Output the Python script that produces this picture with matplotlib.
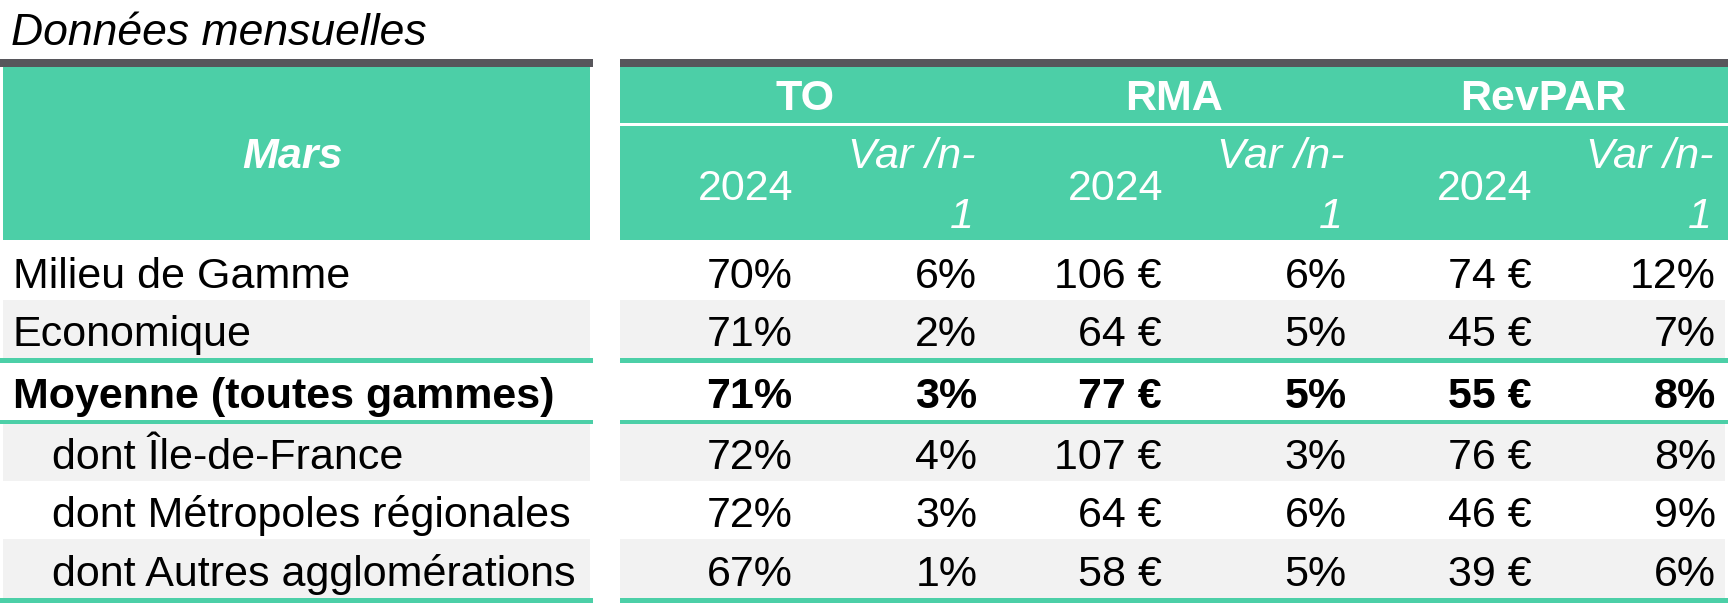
import matplotlib
matplotlib.use("Agg")
import matplotlib.pyplot as plt
from matplotlib.patches import Rectangle

# ---------------------------------------------------------------------------
# Data
# ---------------------------------------------------------------------------
month = "Mars"
title = "Données mensuelles"
groups = ["TO", "RMA", "RevPAR"]
year = "2024"

categories = [
    "Milieu de Gamme",
    "Economique",
    "Moyenne (toutes gammes)",
    "dont Île-de-France",
    "dont Métropoles régionales",
    "dont Autres agglomérations",
]
to_2024 = [70, 71, 71, 72, 72, 67]
to_var = [6, 2, 3, 4, 3, 1]
rma_2024 = [106, 64, 77, 107, 64, 58]
rma_var = [6, 5, 5, 3, 6, 5]
revpar_2024 = [74, 45, 55, 76, 46, 39]
revpar_var = [12, 7, 8, 8, 9, 6]

# ---------------------------------------------------------------------------
# Layout / style
# ---------------------------------------------------------------------------
W, H = 1728, 608
TEAL = "#4CCFA7"
DARK = "#57565B"
GREY = "#F2F2F2"
FS = 31
plt.rcParams["font.family"] = ["Liberation Sans", "DejaVu Sans"]

left_x0, left_x1 = 0, 593
right_x0, right_x1 = 620, W
col_w = (right_x1 - right_x0) / 6
row_tops = [240, 300, 363, 424, 481, 539]
row_bots = [300, 358, 420, 481, 539, 598]
grey_rows = [1, 3, 5]
bold_row = 2
indent_rows = [3, 4, 5]
teal_lines = [(358, 363), (420, 424), (598, 603)]

fig = plt.figure(figsize=(W / 100, H / 100), dpi=100)
ax = fig.add_axes([0, 0, 1, 1])
ax.set_xlim(0, W)
ax.set_ylim(H, 0)
ax.axis("off")


def rect(x0, y0, x1, y1, color):
    ax.add_patch(Rectangle((x0, y0), x1 - x0, y1 - y0, facecolor=color,
                           edgecolor="none", lw=0))


# title
ax.text(11, 45, title, fontsize=32, style="italic", ha="left", va="baseline")

# dark bars over header
rect(left_x0, 59, left_x1, 67, DARK)
rect(right_x0, 59, right_x1, 67, DARK)

# header blocks
rect(3, 67, 590, 240, TEAL)
rect(right_x0, 67, right_x1, 240, TEAL)
rect(right_x0, 123, right_x1, 126, "white")

ax.text((3 + 590) / 2 - 4, 168, month, fontsize=FS, color="white",
        weight="bold", style="italic", ha="center", va="baseline")

for g, name in enumerate(groups):
    cx = right_x0 + col_w * (2 * g + 1)
    ax.text(cx, 110, name, fontsize=FS, color="white", weight="bold",
            ha="center", va="baseline")
    x_year = right_x0 + col_w * (2 * g + 1) - 11
    x_var = right_x0 + col_w * (2 * g + 2) - 14
    ax.text(x_year, 200, year, fontsize=FS, color="white",
            ha="right", va="baseline")
    ax.text(x_var, 168, "Var /n-", fontsize=FS, color="white",
            style="italic", ha="right", va="baseline")
    ax.text(x_var - 2, 228, "1", fontsize=FS, color="white",
            style="italic", ha="right", va="baseline")

# row backgrounds
for r in grey_rows:
    rect(3, row_tops[r], 590, row_bots[r], GREY)
    rect(right_x0, row_tops[r], right_x1 - 3, row_bots[r], GREY)

for y0, y1 in teal_lines:
    rect(left_x0, y0, left_x1, y1, TEAL)
    rect(right_x0, y0, right_x1, y1, TEAL)

# body
columns = [
    [f"{v}%" for v in to_2024],
    [f"{v}%" for v in to_var],
    [f"{v} €" for v in rma_2024],
    [f"{v}%" for v in rma_var],
    [f"{v} €" for v in revpar_2024],
    [f"{v}%" for v in revpar_var],
]

for i, label in enumerate(categories):
    base = row_bots[i] - 12
    weight = "bold" if i == bold_row else "normal"
    x_lab = 52 if i in indent_rows else 13
    ax.text(x_lab, base, label, fontsize=FS, weight=weight,
            ha="left", va="baseline")
    for c, col in enumerate(columns):
        x = right_x0 + col_w * (c + 1) - 12
        ax.text(x, base, col[i], fontsize=FS, weight=weight,
                ha="right", va="baseline")

fig.savefig("out.png", dpi=100)
